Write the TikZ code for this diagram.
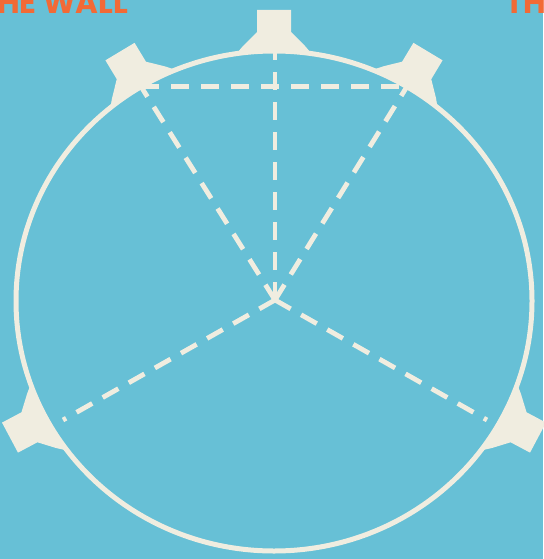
\documentclass[tikz,border=0pt]{standalone}
\usepackage{fontspec}
\setmainfont{Poppins}
\usetikzlibrary{
    positioning
}
\definecolor{sea}{RGB}{103,192,214}
\definecolor{cream}{RGB}{240,237,224}
\definecolor{rust}{RGB}{242,106,54}

\begin{document}
\begin{tikzpicture}[x=1pt, y=-1pt,
      rim/.style={draw=cream, line width=5pt},
      mount/.style={fill=cream},
      sight/.style={draw=cream, line width=4.8pt, dash pattern=on 18pt off 12pt},
      walltext/.style={font=\bfseries\fontsize{31}{31}\selectfont, text=rust, inner sep=0pt}]
    \fill[sea] (0,0) rectangle (543,559);
    \useasboundingbox (0,0) rectangle (543,559);
    % rim and the five mounts
    \draw[rim] (274,301) ellipse [x radius=258pt, y radius=250pt];
    \foreach \a in {90,59,121,208,-28}
      \fill[mount, shift={({274+258*cos(\a)},{301-250*sin(\a)})}, rotate={\a-90}]
        (-37,2) -- (-31,-5) -- (-17,-19) -- (-17,-41) -- (17,-41) -- (17,-19) -- (31,-5) -- (37,2) -- cycle;
    % sight lines
    \coordinate (hub) at (275,300);
    \coordinate (top) at (275,52);
    \coordinate (nw) at ({274+258*cos(121)},{301-250*sin(121)});
    \coordinate (ne) at ({274+258*cos(59)},{301-250*sin(59)});
    \coordinate (sw) at (63,420);
    \coordinate (se) at (487,420);
    \draw[sight] (hub) -- (top);
    \draw[sight] (nw) -- (ne);
    \draw[sight] (hub) -- (nw);
    \draw[sight] (hub) -- (ne);
    \draw[sight] (hub) -- (sw);
    \draw[sight] (hub) -- (se);
    \node[walltext, anchor=base west] (wall) at (-3,14) {HE WALL};
    \node[walltext, anchor=base west] (them) at (505,14) {TH};
  \end{tikzpicture}
\end{document}
